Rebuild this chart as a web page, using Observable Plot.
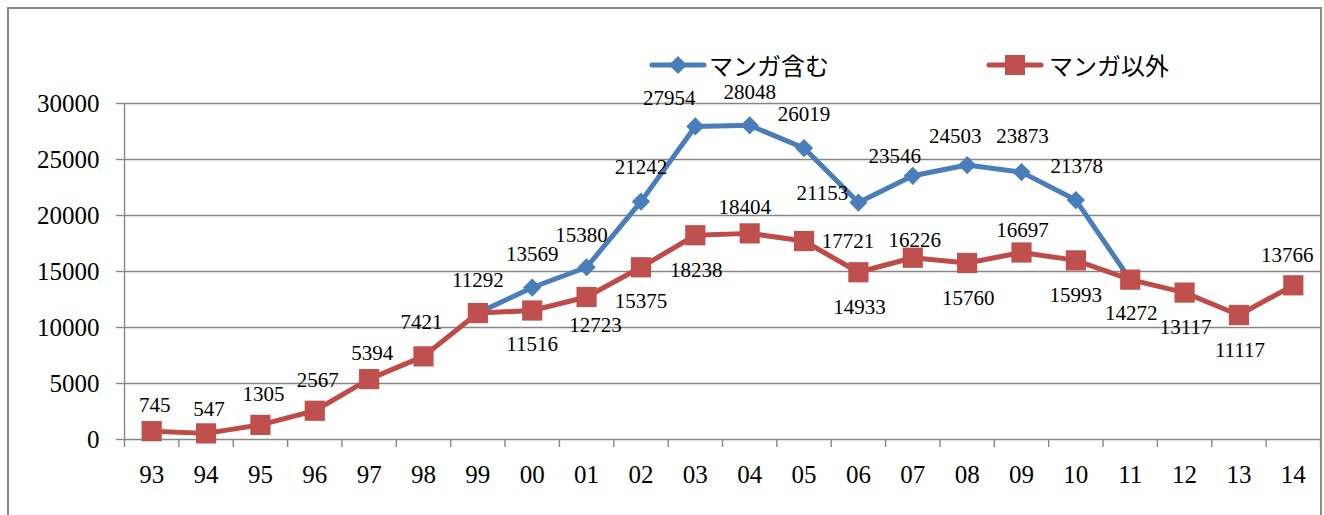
<!DOCTYPE html>
<html>
<head>
<meta charset="utf-8">
<script src="https://cdn.jsdelivr.net/npm/d3@7"></script>
<script src="https://cdn.jsdelivr.net/npm/@observablehq/plot@0.6"></script>
<style>
html, body { margin: 0; padding: 0; background: #fff; overflow: hidden; width: 1324px; height: 515px; }
#frame { position: absolute; left: 7px; top: 7px; width: 1315px; height: 600px; border: 2px solid #8a8a8a; box-sizing: border-box; }
#legend { position: relative; height: 81px; font-family: "Noto Sans CJK JP", "Noto Sans", sans-serif; font-size: 24px; color: #000; }
#legend svg, #legend span { position: absolute; }
#legend span { line-height: 24px; white-space: nowrap; }
#chart svg { display: block; }
</style>
</head>
<body>
<div id="frame">
  <div id="legend"></div>
  <div id="chart"></div>
</div>
<script>
// ---- data ----
const years = ["93","94","95","96","97","98","99","00","01","02","03","04","05","06","07","08","09","10","11","12","13","14"];
const seriesNames = ["マンガ含む", "マンガ以外"];
const mangaIncl = [null, null, null, null, null, null, 11292, 13569, 15380, 21242, 27954, 28048, 26019, 21153, 23546, 24503, 23873, 21378, 14272, null, null, null];
const mangaExcl = [745, 547, 1305, 2567, 5394, 7421, 11292, 11516, 12723, 15375, 18238, 18404, 17721, 14933, 16226, 15760, 16697, 15993, 14272, 13117, 11117, 13766];
const yTicks = [0, 5000, 10000, 15000, 20000, 25000, 30000];
// which points carry a visible value label for the blue series
const inclLabelShown = [false, false, false, false, false, false, false, true, true, true, true, true, true, true, true, true, true, true, false, false, false, false];

// ---- label placement (styles, pixel offsets from the point) ----
const inclLabelDx = [0,0,0,0,0,0,0, 0, -5, 0, -26, 0, 0, -36, -18, -12, 1, 1, 0,0,0,0];
const inclLabelDy = [0,0,0,0,0,0,0, -33, -32, -34, -28, -33, -34, -9, -20, -29, -36, -34, 0,0,0,0];
const exclLabelDx = [3, 3, 3, 3, 3, -2, 0, 0, 9, 0, 1, -5, 44, 1, 2, 1, 1, 0, 1, 1, 1, -6];
const exclLabelDy = [-26, -24, -31, -30, -26, -34, -33, 34, 28, 34, 35, -26, 0, 35, -18, 35, -22, 35, 34, 35, 35, -30];

const BLUE = "#4A7EBB", RED = "#BE4B48", RED_FILL = "#C0504D", GRID = "#878787";

const idx = years.map((_, i) => i);
const boundaries = d3.range(years.length + 1).map(i => i - 0.5);
const inclData = idx.filter(i => mangaIncl[i] != null).map(i => ({i, v: mangaIncl[i]}));
const exclData = idx.map(i => ({i, v: mangaExcl[i]}));

const labelFont = {fontSize: 21, fill: "#000"};
const inclLabels = inclData.filter(d => inclLabelShown[d.i]).map(d =>
  Plot.text([d], {x: "i", y: "v", text: d => String(d.v), dx: inclLabelDx[d.i], dy: inclLabelDy[d.i], ...labelFont}));
const exclLabels = exclData.map(d =>
  Plot.text([d], {x: "i", y: "v", text: d => String(d.v), dx: exclLabelDx[d.i], dy: exclLabelDy[d.i], ...labelFont}));

const chart = Plot.plot({
  width: 1311,
  height: 425,
  marginLeft: 115,
  marginRight: 0,
  marginTop: 13,
  marginBottom: 76,
  style: {fontFamily: "'Liberation Serif', 'DejaVu Serif', serif", background: "transparent", overflow: "visible", color: "#000"},
  x: {type: "linear", domain: [boundaries[0], boundaries[boundaries.length - 1]], axis: null, label: null},
  y: {domain: [yTicks[0], yTicks[yTicks.length - 1]], axis: null, label: null},
  marks: [
    Plot.gridY(yTicks, {stroke: GRID, strokeOpacity: 1, strokeWidth: 1.4}),
    Plot.axisY(yTicks, {tickSize: 8, tickPadding: 17, fontSize: 25, stroke: GRID, strokeWidth: 1.4, fill: "#000", tickFormat: d => String(d), label: null}),
    Plot.ruleX([boundaries[0]], {stroke: GRID, strokeWidth: 1.4}),
    Plot.axisX(boundaries, {tickSize: 8, stroke: GRID, strokeWidth: 1.4, fill: "none", label: null}),
    Plot.axisX(idx, {tickSize: 0, tickPadding: 26, fontSize: 25, fill: "#000", tickFormat: i => years[i], label: null}),
    Plot.line(inclData, {x: "i", y: "v", stroke: BLUE, strokeWidth: 5, strokeLinejoin: "round"}),
    Plot.dot(inclData, {x: "i", y: "v", symbol: "diamond2", r: 8.2, fill: BLUE, stroke: "none"}),
    Plot.line(exclData, {x: "i", y: "v", stroke: RED, strokeWidth: 5, strokeLinejoin: "round"}),
    Plot.dot(exclData, {x: "i", y: "v", symbol: "square", r: 11.4, fill: RED_FILL, stroke: "none"}),
    ...inclLabels,
    ...exclLabels
  ]
});
document.getElementById("chart").appendChild(chart);

// ---- legend (HTML above the plot area) ----
const legend = document.getElementById("legend");
const ns = "http://www.w3.org/2000/svg";
function swatch(left, color, kind) {
  const svg = document.createElementNS(ns, "svg");
  svg.setAttribute("width", 58); svg.setAttribute("height", 24);
  svg.style.left = left + "px"; svg.style.top = "44px";
  const line = document.createElementNS(ns, "line");
  line.setAttribute("x1", 3); line.setAttribute("x2", 55); line.setAttribute("y1", 12); line.setAttribute("y2", 12);
  line.setAttribute("stroke", color); line.setAttribute("stroke-width", 5); line.setAttribute("stroke-linecap", "round");
  svg.appendChild(line);
  const m = document.createElementNS(ns, "path");
  m.setAttribute("d", kind === "diamond" ? "M29,3L38,12L29,21L20,12Z" : "M19,2H39V22H19Z");
  m.setAttribute("fill", kind === "diamond" ? BLUE : RED_FILL);
  svg.appendChild(m);
  legend.appendChild(svg);
}
function label(left, text) {
  const s = document.createElement("span");
  s.textContent = text; s.style.left = left + "px"; s.style.top = "44px";
  legend.appendChild(s);
}
swatch(640, BLUE, "diamond");
label(700, seriesNames[0]);
swatch(977, RED, "square");
label(1040, seriesNames[1]);
</script>
</body>
</html>
